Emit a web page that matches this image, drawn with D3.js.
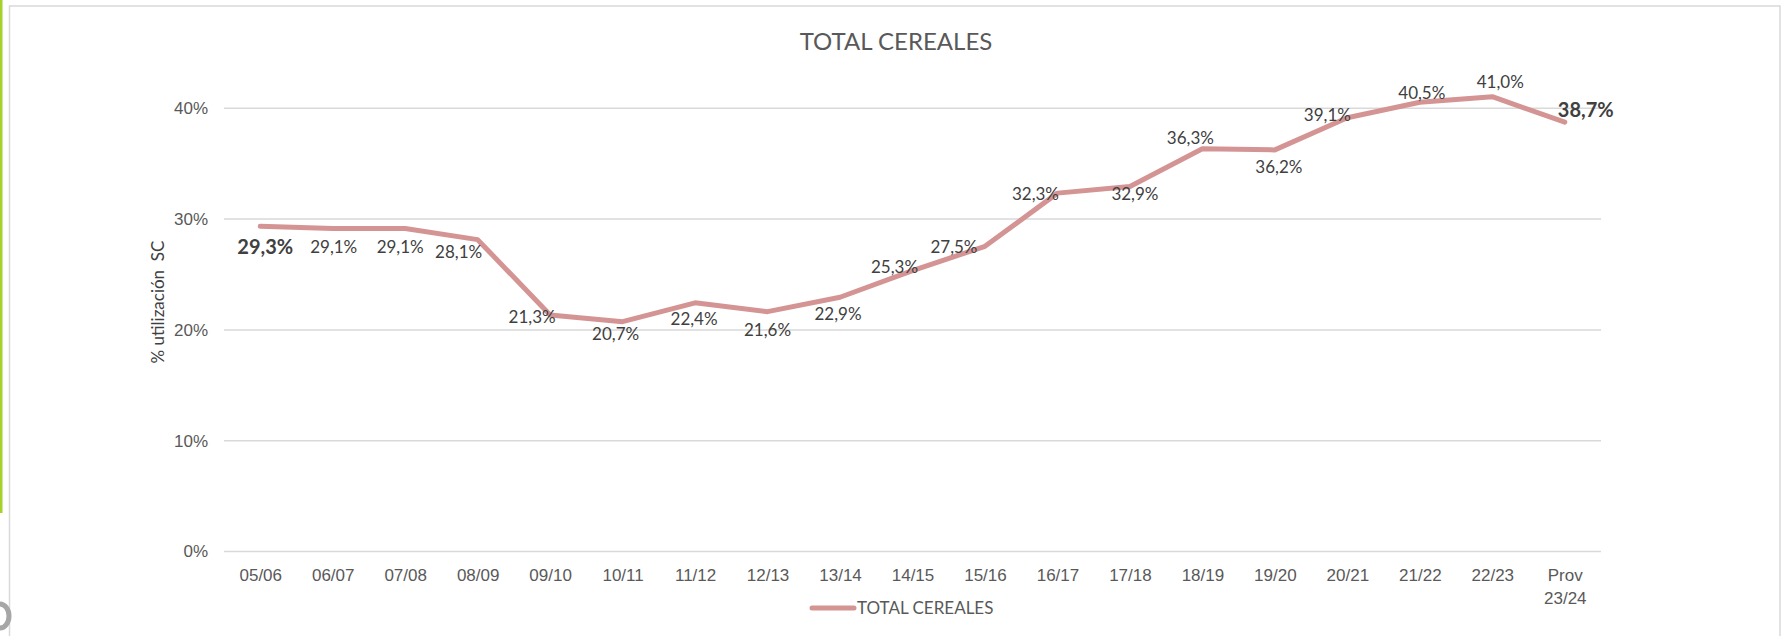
<!DOCTYPE html>
<html>
<head>
<meta charset="utf-8">
<script src="https://cdn.jsdelivr.net/npm/d3@7"></script>
<style>
  html, body { margin: 0; padding: 0; background: #fff; }
  svg { display: block; font-family: Lato, "Open Sans", sans-serif; }
  .tick text { fill: #595959; font-size: 17px; }
  .lbl { fill: #404040; font-size: 17px; }
  .lbl.bold { font-weight: bold; font-size: 20px; }
</style>
</head>
<body>
<div id="container"></div>
<script>

var seasons = ['05/06', '06/07', '07/08', '08/09', '09/10', '10/11', '11/12', '12/13', '13/14',
    '14/15', '15/16', '16/17', '17/18', '18/19', '19/20', '20/21', '21/22', '22/23', 'Prov 23/24'];

var cereales = [29.3, 29.1, 29.1, 28.1, 21.3, 20.7, 22.4, 21.6, 22.9,
    25.3, 27.5, 32.3, 32.9, 36.3, 36.2, 39.1, 40.5, 41.0, 38.7];

var yTicks = [0, 10, 20, 30, 40];

// where excel left each data label, relative to its point
var nudge = [[5, 21], [1, 18], [-5, 18], [-19, 12], [-18, 2], [-7, 12], [-1, 16], [0, 18], [-2, 17],
    [-18, -4], [-31, 1], [-22, 1], [5, 8], [-12, -11], [4, 17], [-20, -3], [2, -9], [8, -15], [21, -12]];

var W = 1785, H = 636;
var plot = {left: 224, right: 1601, bottom: 551};

var svg = d3.select('#container').append('svg')
    .attr('width', W)
    .attr('height', H);

// screenshot leftovers: green strip and the chart frame
svg.append('rect').attr('x', 0).attr('y', 0).attr('width', 2.5).attr('height', 513).attr('fill', '#a6d12a');
svg.append('path')
    .attr('d', 'M9.5,640 V6 H1780 V640')
    .attr('fill', 'none')
    .attr('stroke', '#d9d9d9')
    .attr('stroke-width', 1.5);
svg.append('path')
    .attr('d', 'M0,604 A9,12 0 0 1 0,628')
    .attr('fill', 'none')
    .attr('stroke', '#a6a6a6')
    .attr('stroke-width', 5);

var x = d3.scalePoint()
    .domain(seasons)
    .range([plot.left, plot.right])
    .padding(0.5);

var y = d3.scaleLinear()
    .domain([0, 45])
    .range([plot.bottom, plot.bottom - 45 * 11.08]);

// y axis with gridlines
var yAxis = d3.axisLeft(y)
    .tickValues(yTicks)
    .tickSize(-(plot.right - plot.left))
    .tickPadding(16)
    .tickFormat(function (d) { return d + '%'; });

svg.append('g')
    .attr('class', 'axis axis--y')
    .attr('transform', 'translate(' + plot.left + ',0)')
    .call(yAxis)
    .call(function (g) {
        g.select('.domain').remove();
        g.selectAll('.tick line').attr('stroke', '#d9d9d9').attr('stroke-width', 1.5);
        g.selectAll('.tick text').attr('dy', '0.35em');
    });

// x axis, labels only
var xAxis = d3.axisBottom(x).tickSize(0).tickPadding(0);

svg.append('g')
    .attr('class', 'axis axis--x')
    .attr('transform', 'translate(0,' + plot.bottom + ')')
    .call(xAxis)
    .call(function (g) {
        g.select('.domain').remove();
        g.selectAll('.tick text').each(function (d) {
            var t = d3.select(this).text(null).attr('y', 0).attr('dy', null);
            d.split(' ').forEach(function (part, i) {
                t.append('tspan')
                    .attr('x', 0)
                    .attr('y', 30 + i * 23)
                    .text(part);
            });
        });
    });

var data = seasons.map(function (s, i) {
    return {season: s, value: cereales[i], nudge: nudge[i], i: i};
});

var line = d3.line()
    .x(function (d) { return x(d.season); })
    .y(function (d) { return y(d.value); });

svg.append('path')
    .datum(data)
    .attr('fill', 'none')
    .attr('stroke', '#d49494')
    .attr('stroke-width', 5)
    .attr('stroke-linejoin', 'round')
    .attr('stroke-linecap', 'round')
    .attr('d', line);

// data labels
var fmt = function (v) { return v.toFixed(1).replace('.', ',') + '%'; };

svg.selectAll('.lbl')
    .data(data)
    .enter().append('text')
    .attr('class', function (d) {
        return d.i === 0 || d.i === data.length - 1 ? 'lbl bold' : 'lbl';
    })
    .attr('x', function (d) { return x(d.season) + d.nudge[0]; })
    .attr('y', function (d) { return y(d.value) + d.nudge[1]; })
    .attr('text-anchor', 'middle')
    .attr('dy', '0.35em')
    .text(function (d) { return fmt(d.value); });

// title
svg.append('text')
    .attr('x', 896)
    .attr('y', 50)
    .attr('text-anchor', 'middle')
    .attr('fill', '#595959')
    .style('font-size', '24px')
    .text('TOTAL CEREALES');

// y axis title
svg.append('text')
    .attr('transform', 'translate(158,302) rotate(-90)')
    .attr('text-anchor', 'middle')
    .attr('dy', '0.35em')
    .attr('fill', '#404040')
    .style('font-size', '17px')
    .style('white-space', 'pre')
    .text('% utilización  SC');

// legend
var key = svg.append('g')
    .attr('class', 'plot-legend')
    .attr('transform', 'translate(' + 812 + ',' + 608 + ')');

key.append('line')
    .attr('x1', 0).attr('x2', 42)
    .attr('stroke', '#d49494')
    .attr('stroke-width', 5)
    .attr('stroke-linecap', 'round');

key.append('text')
    .attr('x', 45)
    .attr('dy', '0.35em')
    .attr('fill', '#595959')
    .style('font-size', '17px')
    .text('TOTAL CEREALES');

</script>
</body>
</html>
